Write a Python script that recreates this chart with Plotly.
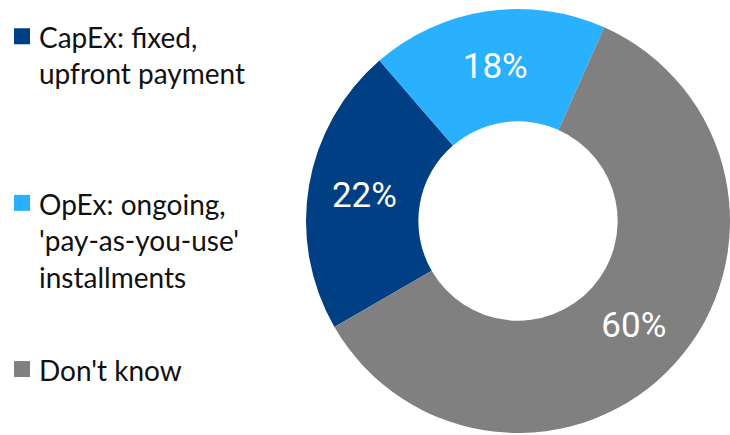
import plotly.graph_objects as go

# Survey answers: preferred payment model
labels = ["CapEx: fixed,<br>upfront payment",
          "OpEx: ongoing,<br>'pay-as-you-use'<br>installments",
          "Don't know"]
values = [22, 18, 60]
colors = ["#003F84", "#29B1FF", "#808080"]

# Left-hand key: vertical position (paper units, top of each text block)
key_tops = [0.958, 0.575, 0.193]

W, H = 730, 435

fig = go.Figure()
fig.add_trace(go.Pie(
    labels=labels,
    values=values,
    hole=0.47,
    sort=False,
    direction="clockwise",
    rotation=240,
    marker=dict(colors=colors, line=dict(width=0)),
    texttemplate="%{value}%",
    textposition="inside",
    insidetextorientation="horizontal",
    textfont=dict(family="Roboto", size=35, color="white"),
    domain=dict(x=[306 / W, 1], y=[2 / H, 426 / H]),
    showlegend=False,
    hoverinfo="label+percent",
))

sq = 16  # key swatch size in px
for lab, col, top in zip(labels, colors, key_tops):
    fig.add_annotation(
        x=37 / W, y=top, xref="paper", yref="paper",
        xanchor="left", yanchor="top", align="left",
        text=lab, showarrow=False,
        font=dict(family="Lato", size=28, color="#111111"),
    )
    y_px = (1 - top) * H + 10
    fig.add_shape(
        type="rect", xref="paper", yref="paper",
        x0=14 / W, x1=(14 + sq) / W,
        y0=1 - (y_px + sq) / H, y1=1 - y_px / H,
        fillcolor=col, line=dict(width=0),
    )

fig.update_layout(
    width=W, height=H,
    margin=dict(l=0, r=0, t=0, b=0),
    paper_bgcolor="white",
    plot_bgcolor="white",
)

fig.write_html("out.html")
